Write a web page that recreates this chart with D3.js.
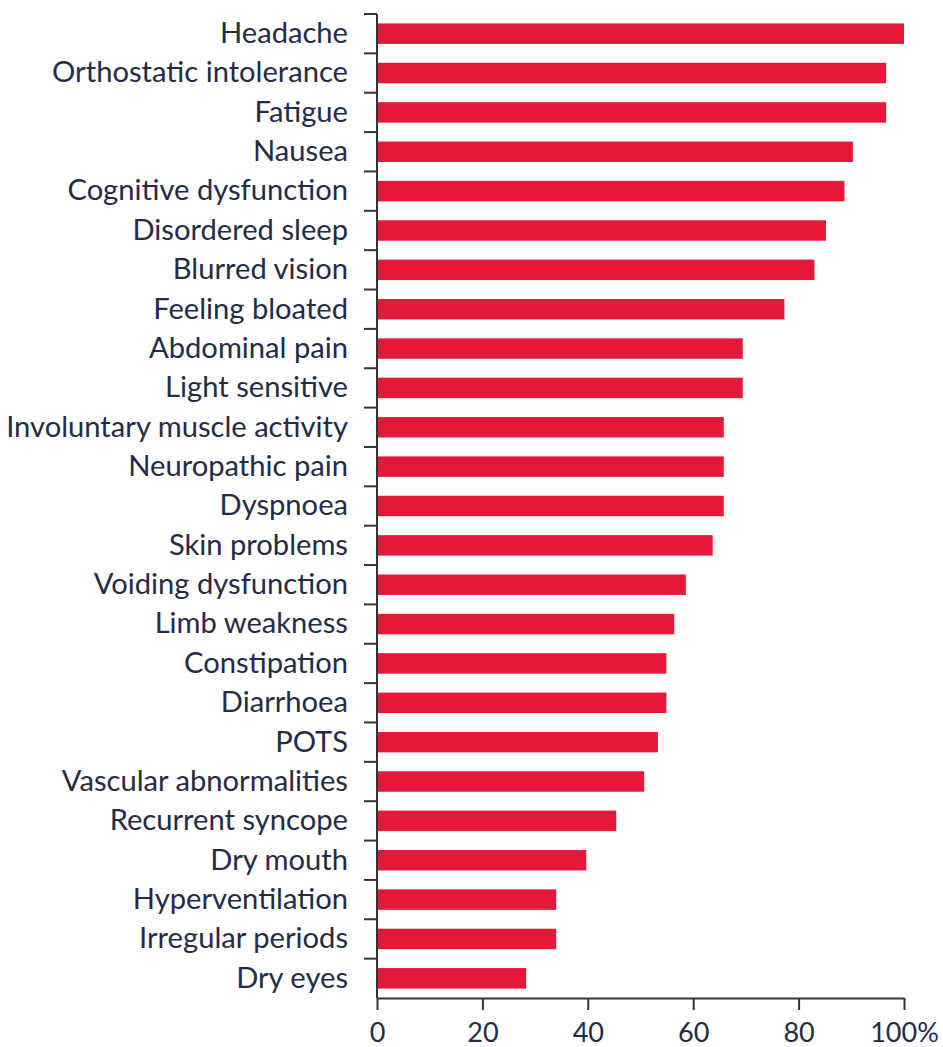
<!DOCTYPE html>
<html>
<head>
<meta charset="utf-8">
<script src="https://cdn.jsdelivr.net/npm/d3@7"></script>
<style>
  html, body { margin: 0; padding: 0; background: #fff; }
  svg { display: block; }
</style>
</head>
<body>
<svg id="chart" width="943" height="1047"></svg>
<script>
const categories = [
  "Headache", "Orthostatic intolerance", "Fatigue", "Nausea", "Cognitive dysfunction",
  "Disordered sleep", "Blurred vision", "Feeling bloated", "Abdominal pain", "Light sensitive",
  "Involuntary muscle activity", "Neuropathic pain", "Dyspnoea", "Skin problems",
  "Voiding dysfunction", "Limb weakness", "Constipation", "Diarrhoea", "POTS",
  "Vascular abnormalities", "Recurrent syncope", "Dry mouth", "Hyperventilation",
  "Irregular periods", "Dry eyes"
];
const values = [
  100, 96.6, 96.6, 90.3, 88.7,
  85.2, 83.0, 77.3, 69.4, 69.4,
  65.8, 65.8, 65.8, 63.7,
  58.6, 56.4, 54.9, 54.9, 53.3,
  50.7, 45.4, 39.7, 34.0,
  34.0, 28.3
];
const xTicks = [0, 20, 40, 60, 80, 100];
const xTickLabels = ["0", "20", "40", "60", "80", "100%"];

const FONT = "Lato, 'Open Sans', sans-serif";
const TEXT = "#232b45";
const BAR = "#e4193a";
const AXIS = "#333333";

const svg = d3.select("#chart");
const mLeft = 377, mRight = 904, mTop = 14, mBottom = 998;

const x = d3.scaleLinear().domain([0, 100]).range([mLeft, mRight]);
const y = d3.scaleBand().domain(categories).range([mTop, mBottom]).paddingInner(0.48).paddingOuter(0.24);

// bars
svg.append("g").selectAll("rect")
  .data(categories)
  .join("rect")
  .attr("x", x(0))
  .attr("y", d => y(d))
  .attr("width", (d, i) => x(values[i]) - x(0))
  .attr("height", y.bandwidth())
  .attr("fill", BAR);

// y axis labels (no ticks at labels)
const yAxisG = svg.append("g")
  .attr("transform", `translate(${mLeft},0)`)
  .call(d3.axisLeft(y).tickSize(0).tickPadding(29));
yAxisG.select(".domain").remove();
yAxisG.selectAll("text")
  .attr("fill", TEXT)
  .style("font-family", FONT)
  .style("font-size", "24px");

let maxW = 0;
yAxisG.selectAll("text").each(function() { maxW = Math.max(maxW, this.getComputedTextLength()); });
const fs = 24 * 342 / maxW;
yAxisG.selectAll("text").style("font-size", fs + "px");

// y axis line and boundary ticks
const boundaries = d3.range(categories.length).map(i => mTop + i * (mBottom - mTop) / categories.length);
svg.append("line")
  .attr("x1", mLeft).attr("x2", mLeft)
  .attr("y1", mTop).attr("y2", mBottom)
  .attr("stroke", AXIS).attr("stroke-width", 2);
svg.append("g").selectAll("line")
  .data(boundaries)
  .join("line")
  .attr("x1", mLeft - 13).attr("x2", mLeft)
  .attr("y1", d => d).attr("y2", d => d)
  .attr("stroke", AXIS).attr("stroke-width", 2);

// x axis
const xAxisG = svg.append("g")
  .attr("transform", `translate(0,${mBottom})`)
  .call(d3.axisBottom(x).tickValues(xTicks).tickFormat((d, i) => xTickLabels[i]).tickSize(12).tickSizeOuter(0).tickPadding(13));
xAxisG.select(".domain").attr("stroke", AXIS).attr("stroke-width", 2);
xAxisG.selectAll(".tick line").attr("stroke", AXIS).attr("stroke-width", 2);
xAxisG.selectAll("text")
  .attr("fill", TEXT)
  .style("font-family", FONT)
  .style("font-size", "27px");
</script>
</body>
</html>
